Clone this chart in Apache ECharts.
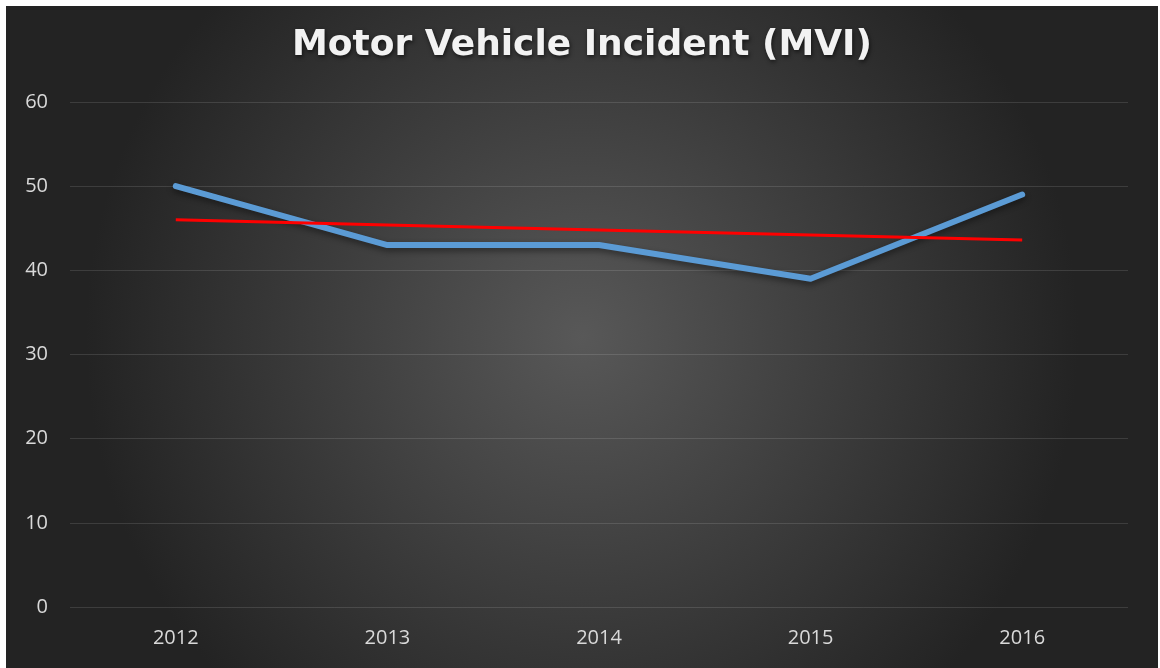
<!DOCTYPE html>
<html>
<head>
<meta charset="utf-8">
<script src="https://cdn.jsdelivr.net/npm/echarts@6/dist/echarts.min.js"></script>
<style>
html,body{margin:0;padding:0;background:#fff;}
#chart{position:absolute;left:6px;top:6px;width:1152px;height:662px;}
</style>
</head>
<body>
<div id="chart"></div>
<script>
const categories = ['2012', '2013', '2014', '2015', '2016'];
const mviValues = [50, 43, 43, 39, 49];
const trendValues = [46.0, 45.4, 44.8, 44.2, 43.6];
const yTicks = { min: 0, max: 60, interval: 10 };

const chart = echarts.init(document.getElementById('chart'));
chart.setOption({
  backgroundColor: {
    type: 'radial', x: 0.5, y: 0.5, r: 0.75,
    colorStops: [
      { offset: 0, color: '#585858' },
      { offset: 1, color: '#232323' }
    ]
  },
  title: {
    text: 'Motor Vehicle Incident (MVI)',
    left: 'center',
    top: 17,
    textStyle: {
      color: '#f2f2f2',
      fontFamily: 'DejaVu Sans',
      fontWeight: 'bold',
      fontSize: 36,
      textShadowColor: 'rgba(0,0,0,0.6)',
      textShadowBlur: 4,
      textShadowOffsetX: 1,
      textShadowOffsetY: 2
    }
  },
  grid: { left: 64, right: 30, top: 96, bottom: 61, containLabel: false },
  xAxis: {
    type: 'category',
    data: categories,
    boundaryGap: true,
    axisLine: { show: false },
    axisTick: { show: false },
    axisLabel: { color: '#d9d9d9', fontSize: 20, fontFamily: 'Open Sans', margin: 21 }
  },
  yAxis: {
    type: 'value',
    min: yTicks.min, max: yTicks.max, interval: yTicks.interval,
    axisLine: { show: false },
    axisTick: { show: false },
    axisLabel: { color: '#d9d9d9', fontSize: 20, fontFamily: 'Open Sans', margin: 22 },
    splitLine: { lineStyle: { color: 'rgba(255,255,255,0.12)', width: 1 } }
  },
  series: [
    {
      name: 'MVI',
      type: 'line',
      data: mviValues,
      symbol: 'none',
      z: 2,
      lineStyle: {
        color: '#5b9bd5', width: 6, cap: 'round', join: 'round',
        shadowColor: 'rgba(0,0,0,0.45)', shadowBlur: 6, shadowOffsetY: 3
      }
    },
    {
      name: 'Linear (MVI)',
      type: 'line',
      data: trendValues,
      symbol: 'none',
      z: 3,
      lineStyle: { color: '#ff0000', width: 3 }
    }
  ]
});
</script>
</body>
</html>
